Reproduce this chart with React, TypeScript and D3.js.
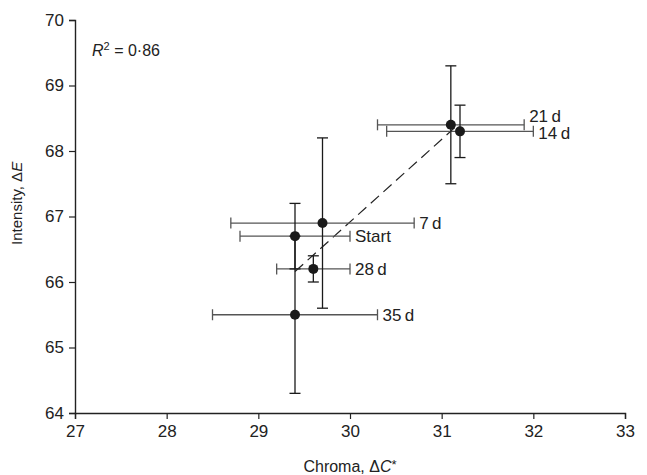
import * as d3 from 'd3';
import React, { useEffect, useRef } from 'react';

// values
const labels = ['Start', '7\u2009d', '14\u2009d', '21\u2009d', '28\u2009d', '35\u2009d'];
const chroma = [29.4, 29.7, 31.2, 31.1, 29.6, 29.4];
const chromaLo = [28.8, 28.7, 30.4, 30.3, 29.2, 28.5];
const chromaHi = [30.0, 30.7, 32.0, 31.9, 30.0, 30.3];
const intensity = [66.7, 66.9, 68.3, 68.4, 66.2, 65.5];
const intensityLo = [66.2, 65.6, 67.9, 67.5, 66.0, 64.3];
const intensityHi = [67.2, 68.2, 68.7, 69.3, 66.4, 66.7];
const labelShift = [0, 0, 2, -9, 0, 0]; // 14 d / 21 d labels nudged apart
const xTicks = [27, 28, 29, 30, 31, 32, 33];
const yTicks = [64, 65, 66, 67, 68, 69, 70];
const trendRange = [29.4, 31.15];

const W = 647;
const H = 475;
const FONT = '"Liberation Sans", Arial, sans-serif';

export default function App() {
    const svgRef = useRef(null);

    function renderChart() {
        const svg = d3.select(svgRef.current);
        svg.selectAll('*').remove();
        svg.attr('width', W).attr('height', H);

        const x = d3.scaleLinear().domain([27, 33]).range([75, 625]);
        const y = d3.scaleLinear().domain([64, 70]).range([413, 20]);

        const g = svg.append('g').style('font-family', FONT);

        // axes
        const xAxis = d3.axisBottom(x).tickValues(xTicks).tickSize(6).tickPadding(6).tickFormat(d3.format('d'));
        const yAxis = d3.axisLeft(y).tickValues(yTicks).tickSize(6).tickPadding(5).tickFormat(d3.format('d'));
        const gx = g.append('g').attr('transform', `translate(0,${y(64)})`).call(xAxis);
        const gy = g.append('g').attr('transform', `translate(${x(27)},0)`).call(yAxis);
        [gx, gy].forEach((ax) => {
            ax.select('.domain').attr('stroke', '#222').attr('stroke-width', 1.4);
            ax.selectAll('.tick line').attr('stroke', '#222').attr('stroke-width', 1.2);
            ax.selectAll('.tick text')
                .attr('fill', '#222')
                .style('font-family', FONT)
                .style('font-size', '17px');
        });

        // regression line (least squares through the six means)
        const mx = d3.mean(chroma);
        const my = d3.mean(intensity);
        const sxy = d3.sum(chroma, (c, i) => (c - mx) * (intensity[i] - my));
        const sxx = d3.sum(chroma, (c) => (c - mx) * (c - mx));
        const slope = sxy / sxx;
        const fit = (c) => my + slope * (c - mx);
        g.append('line')
            .attr('x1', x(trendRange[0]))
            .attr('y1', y(fit(trendRange[0])))
            .attr('x2', x(trendRange[1]))
            .attr('y2', y(fit(trendRange[1])))
            .attr('stroke', '#222')
            .attr('stroke-width', 1.2)
            .attr('stroke-dasharray', '11,6');

        const idx = d3.range(labels.length);
        const cap = 5.5;

        // horizontal error bars (grey)
        const hb = g.append('g').attr('stroke', '#555').attr('stroke-width', 1.3);
        idx.forEach((i) => {
            const yy = y(intensity[i]);
            hb.append('line').attr('x1', x(chromaLo[i])).attr('x2', x(chromaHi[i])).attr('y1', yy).attr('y2', yy);
            hb.append('line').attr('x1', x(chromaLo[i])).attr('x2', x(chromaLo[i])).attr('y1', yy - cap).attr('y2', yy + cap);
            hb.append('line').attr('x1', x(chromaHi[i])).attr('x2', x(chromaHi[i])).attr('y1', yy - cap).attr('y2', yy + cap);
        });

        // vertical error bars (dark)
        const vb = g.append('g').attr('stroke', '#1a1a1a').attr('stroke-width', 1.3);
        idx.forEach((i) => {
            const xx = x(chroma[i]);
            vb.append('line').attr('x1', xx).attr('x2', xx).attr('y1', y(intensityLo[i])).attr('y2', y(intensityHi[i]));
            vb.append('line').attr('x1', xx - cap).attr('x2', xx + cap).attr('y1', y(intensityLo[i])).attr('y2', y(intensityLo[i]));
            vb.append('line').attr('x1', xx - cap).attr('x2', xx + cap).attr('y1', y(intensityHi[i])).attr('y2', y(intensityHi[i]));
        });

        // points
        g.selectAll('circle.pt')
            .data(idx)
            .enter()
            .append('circle')
            .attr('class', 'pt')
            .attr('cx', (i) => x(chroma[i]))
            .attr('cy', (i) => y(intensity[i]))
            .attr('r', 5)
            .attr('fill', '#1a1a1a');

        // point labels
        g.selectAll('text.lbl')
            .data(idx)
            .enter()
            .append('text')
            .attr('class', 'lbl')
            .attr('x', (i) => x(chromaHi[i]) + 5)
            .attr('y', (i) => y(intensity[i]) + labelShift[i])
            .attr('dy', '0.35em')
            .attr('fill', '#222')
            .style('font-size', '17px')
            .text((i) => labels[i]);

        // R squared note
        const r2 = g.append('text').attr('x', 92).attr('y', 56).attr('fill', '#222').style('font-size', '16px');
        r2.append('tspan').style('font-style', 'italic').text('R');
        r2.append('tspan').attr('dy', -6).style('font-size', '11px').text('2');
        r2.append('tspan').attr('dy', 6).text(' = 0·86');

        // axis titles
        const xt = g.append('text')
            .attr('x', x(30))
            .attr('y', 472)
            .attr('text-anchor', 'middle')
            .attr('fill', '#222')
            .style('font-size', '16px');
        xt.append('tspan').text('Chroma, \u0394');
        xt.append('tspan').style('font-style', 'italic').text('C');
        xt.append('tspan').attr('dy', -3).style('font-size', '13px').text('*');

        const yt = g.append('text')
            .attr('transform', `translate(22,${y(67.2)}) rotate(-90)`)
            .attr('text-anchor', 'middle')
            .attr('fill', '#222')
            .style('font-size', '15px');
        yt.append('tspan').text('Intensity, \u0394');
        yt.append('tspan').style('font-style', 'italic').text('E');
    }

    useEffect(() => {
        renderChart();
    }, []);

    return (
        <div style={{ position: 'absolute', left: 0, top: 0 }}>
            <svg ref={svgRef} style={{ display: 'block' }} />
        </div>
    );
}
